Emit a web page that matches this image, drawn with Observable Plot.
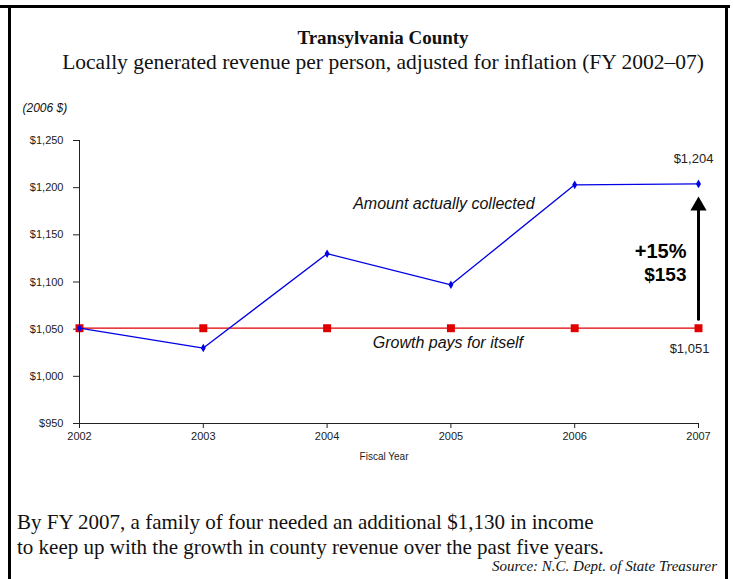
<!DOCTYPE html>
<html><head><meta charset="utf-8">
<script src="https://cdn.jsdelivr.net/npm/d3@7"></script>
<script src="https://cdn.jsdelivr.net/npm/@observablehq/plot@0.6"></script>
<style>
body{margin:0;background:#fff;width:733px;height:579px;position:relative;overflow:hidden;}
.abs{position:absolute;}
.serif{font-family:"Liberation Serif","Times New Roman",serif;color:#111;}
#title{top:28px;left:0;width:766px;text-align:center;font-weight:bold;font-size:19px;line-height:20px;}
#subtitle{top:51px;left:0;width:766px;text-align:center;font-size:21.5px;line-height:22px;}
#chart{top:90px;left:0;}
#note{top:510px;left:17px;font-size:21px;line-height:25px;white-space:nowrap;}
#source{top:557px;right:16px;font-style:italic;font-size:15px;line-height:18px;}
.bt{top:5px;left:0;width:730px;height:3px;background:#000;}
.bl{top:5px;left:8px;width:3px;height:580px;background:#000;}
.br{top:5px;left:725px;width:3px;height:580px;background:#000;}
</style></head>
<body>
<div class="abs bt"></div><div class="abs bl"></div><div class="abs br"></div>
<div id="title" class="abs serif">Transylvania County</div>
<div id="subtitle" class="abs serif">Locally generated revenue per person, adjusted for inflation (FY 2002–07)</div>
<div id="chart" class="abs"></div>
<div id="note" class="abs serif">By FY 2007, a family of four needed an additional $1,130 in income<br>to keep up with the growth in county revenue over the past five years.</div>
<div id="source" class="abs serif">Source: N.C. Dept. of State Treasurer</div>
<script>
const years = [2002, 2003, 2004, 2005, 2006, 2007];
const collected = [1051, 1030, 1130, 1097, 1203, 1204];
const paysForItself = [1051, 1051, 1051, 1051, 1051, 1051];
const yTicks = [950, 1000, 1050, 1100, 1150, 1200, 1250];
const xTicks = years;
const unitsLabel = "(2006 $)";
const xLabel = "Fiscal Year";
const seriesLabels = ["Amount actually collected", "Growth pays for itself"];

const blueData = years.map((y, i) => ({year: y, value: collected[i]}));
const redData = years.map((y, i) => ({year: y, value: paysForItself[i]}));
const last = years.length - 1;
const start = paysForItself[last], end = collected[last];
const diff = end - start;
const pct = Math.round(diff / start * 100);
const money = d3.format("$,");
const endYear = years[last];

const blue = "#0000e6", red = "#e00000";

const chart = Plot.plot({
  width: 733, height: 380,
  marginLeft: 79, marginRight: 35, marginTop: 50, marginBottom: 47,
  style: {fontFamily: "'Liberation Sans', Arial, sans-serif", fontSize: "11px", color: "#222", background: "transparent"},
  x: {domain: [2002, 2007], ticks: xTicks, tickFormat: d => String(d), label: null, line: true, tickSize: 5, tickPadding: 4},
  y: {domain: [950, 1250], ticks: yTicks, tickFormat: d => money(d), label: null, line: true, tickSize: 6, tickPadding: 10},
  marks: [
    Plot.line(redData, {x: "year", y: "value", stroke: red, strokeWidth: 1.3}),
    Plot.dot(redData, {x: "year", y: "value", symbol: "square", r: 4.5, fill: red, stroke: "none"}),
    Plot.line(blueData, {x: "year", y: "value", stroke: blue, strokeWidth: 1.3}),
    Plot.dot(blueData, {x: "year", y: "value", symbol: "diamond", r: 2.6, fill: blue, stroke: "none"}),
    Plot.arrow([{x: endYear, y1: start, y2: end}], {x1: "x", x2: "x", y1: "y1", y2: "y2", stroke: "#000", strokeWidth: 3, headLength: 0, insetStart: 9, insetEnd: 26}),
    Plot.dot([{x: endYear, y: end}], {x: "x", y: "y", symbol: "triangle", r: 6, fill: "#000", stroke: "none", dy: 22}),
    Plot.text([{x: endYear, y: end}], {x: "x", y: "y", text: d => money(d.y), dy: -25, dx: -5, fontSize: 13, fill: "#222"}),
    Plot.text([{x: endYear, y: start}], {x: "x", y: "y", text: d => money(d.y), dy: 21, dx: -9, fontSize: 13, fill: "#222"}),
    Plot.text([{x: endYear, y: (start + end) / 2}], {x: "x", y: "y", text: () => `+${pct}%`, textAnchor: "end", dx: -12, dy: -4, fontSize: 20, fontWeight: "bold", fill: "#000"}),
    Plot.text([{x: endYear, y: (start + end) / 2}], {x: "x", y: "y", text: () => money(diff), textAnchor: "end", dx: -12, dy: 19, fontSize: 19, fontWeight: "bold", fill: "#000"}),
    Plot.text([{x: years[3], y: collected[3]}], {x: "x", y: "y", text: () => seriesLabels[0], dx: -7, dy: -81, fontSize: 16, fontStyle: "italic", fill: "#111"}),
    Plot.text([{x: years[3], y: paysForItself[3]}], {x: "x", y: "y", text: () => seriesLabels[1], dx: -3, dy: 15, fontSize: 16, fontStyle: "italic", fill: "#111"}),
    Plot.text([unitsLabel], {frameAnchor: "top-left", text: d => d, textAnchor: "start", dx: -57, dy: -37, fontSize: 12, fontStyle: "italic", fill: "#111"}),
    Plot.text([xLabel], {frameAnchor: "bottom", text: d => d, dx: -5, dy: 36, fontSize: 10, fill: "#222"})
  ]
});
document.getElementById("chart").appendChild(chart);
</script>
</body></html>
